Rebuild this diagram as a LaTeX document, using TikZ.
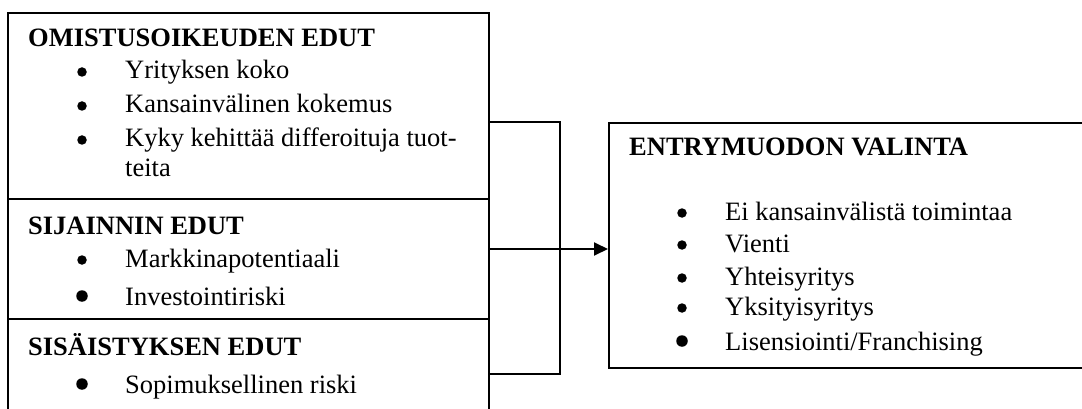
\documentclass[tikz,border=0pt]{standalone}
\usepackage{fontspec}
\setmainfont{Liberation Serif}
\usetikzlibrary{arrows.meta}
\begin{document}
\begin{tikzpicture}[x=1pt,y=-1pt,
  frame/.style={draw, line width=1.9pt, rectangle, inner sep=0pt, anchor=north west},
  head/.style={anchor=base west, inner sep=0pt, font=\fontsize{26.5}{30}\selectfont\bfseries},
  item/.style={anchor=base west, inner sep=0pt, font=\fontsize{26.5}{30}\selectfont},
  bul/.style={circle, fill, draw=none, inner sep=0pt, minimum size=9.5pt},
  bigbul/.style={bul, minimum size=11.5pt},
  link/.style={line width=1.9pt}]
\useasboundingbox (0,0) rectangle (1082,409);
\clip (0,0) rectangle (1082,409);

% left column: three stacked boxes
\node[frame, minimum width=481pt, minimum height=186pt] (own) at (7,12) {};
\node[frame, minimum width=481pt, minimum height=120pt] (loc) at (7,198) {};
\node[frame, minimum width=481pt, minimum height=140pt] (int) at (7,318) {};

% result box on the right
\node[frame, minimum width=500pt, minimum height=245pt] (entry) at (608,122) {};

% bracket joining the three boxes
\coordinate (bx) at (560,0);
\coordinate (bbot) at (488,374);
\draw[link] (own.north east |- entry.north) -| (bx |- bbot) -- (bbot);

% arrow into the result box
\coordinate (ain) at (488,249);
\draw[link, -{Triangle[length=14pt,width=13pt]}] (ain) -- (ain -| entry.west);

% ownership advantages
\node[head] (h1) at (28,47) {OMISTUSOIKEUDEN EDUT};
\node[bul] (b11) at (82,72) {};
\node[item] (i11) at (125,79) {Yrityksen koko};
\node[bul] (b12) at (82,106) {};
\node[item] (i12) at (125,113) {Kansainvälinen kokemus};
\node[bul] (b13) at (82,140) {};
\node[item] (i13) at (125,147) {Kyky kehittää differoituja tuot-};
\node[item] (i14) at (125,177) {teita};

% location advantages
\node[head] (h2) at (28,234) {SIJAINNIN EDUT};
\node[bul] (b21) at (82,260) {};
\node[item] (i21) at (125,267) {Markkinapotentiaali};
\node[bigbul] (b22) at (82,296) {};
\node[item] (i22) at (125,305) {Investointiriski};

% internalisation advantages
\node[head] (h3) at (28,355) {SISÄISTYKSEN EDUT};
\node[bigbul] (b31) at (82,384) {};
\node[item] (i31) at (125,393) {Sopimuksellinen riski};

% entry mode choice
\node[head] (h4) at (629,156) {ENTRYMUODON VALINTA};
\node[bul] (r1b) at (682,213) {};
\node[item] (r1) at (725,220) {Ei kansainvälistä toimintaa};
\node[bul] (r2b) at (682,245) {};
\node[item] (r2) at (725,252) {Vienti};
\node[bul] (r3b) at (682,278) {};
\node[item] (r3) at (725,285) {Yhteisyritys};
\node[bul] (r4b) at (682,308) {};
\node[item] (r4) at (725,315) {Yksityisyritys};
\node[bigbul] (r5b) at (682,341) {};
\begin{scope}
  \clip (600,330) rectangle (1082,355);
  \node[item] (r5) at (725,350) {Lisensiointi/Franchising};
\end{scope}
\end{tikzpicture}
\end{document}
